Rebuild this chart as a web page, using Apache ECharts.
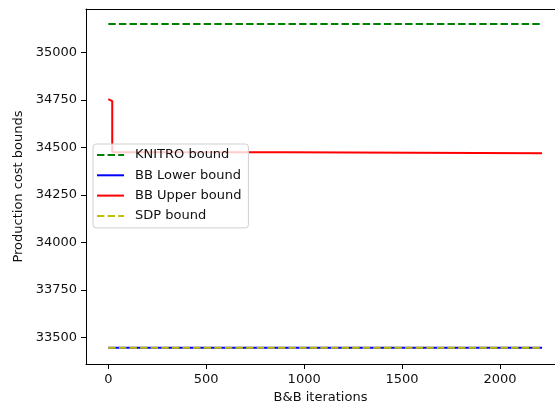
<!DOCTYPE html>
<html>
<head>
<meta charset="utf-8">
<script src="https://cdn.jsdelivr.net/npm/echarts@6/dist/echarts.min.js"></script>
<style>html,body{margin:0;padding:0;background:#fff}#c{width:555px;height:409px}</style>
</head>
<body>
<div id="c"></div>
<script>
const seriesNames = ['KNITRO bound', 'BB Lower bound', 'BB Upper bound', 'SDP bound'];
const knitroIter = [0, 2215];
const knitroVal = [35151, 35151];
const lowerIter = [0, 2215];
const lowerVal = [33446, 33446];
const upperIter = [0, 9, 20, 907, 2215];
const upperVal = [34755, 34745, 34475, 34470, 34470];
const sdpIter = [0, 2215];
const sdpVal = [33446, 33446];
const xTicks = [0, 500, 1000, 1500, 2000];
const yTicks = [33500, 33750, 34000, 34250, 34500, 34750, 35000];

const pair = (xs, ys) => xs.map((x, i) => [x, ys[i]]);
const font = 'DejaVu Sans';
const solidIcon = 'path://M0,0h27v2h-27z';
const dashIcon = 'path://M0,0h7.4v2h-7.4zM10.6,0h7.4v2h-7.4zM21.2,0h5.8v2h-5.8z';
const chart = echarts.init(document.getElementById('c'), null, {renderer: 'canvas'});
chart.setOption({
  animation: false,
  backgroundColor: '#fff',
  grid: {left: 86, top: 9, right: 0, bottom: 45},
  xAxis: [{
    type: 'value', min: -114, max: 2281,
    name: 'B&B iterations', nameLocation: 'middle', nameGap: 27,
    nameTextStyle: {fontFamily: font, fontSize: 13, color: '#111'},
    axisLine: {show: true, onZero: false, lineStyle: {color: '#000', width: 1}},
    axisTick: {show: true, length: 5, lineStyle: {color: '#000', width: 1}, customValues: xTicks},
    axisLabel: {fontFamily: font, fontSize: 13, color: '#111', margin: 9, customValues: xTicks, formatter: v => String(v)},
    splitLine: {show: false}
  }, {
    type: 'value', min: -114, max: 2281, position: 'top',
    axisLine: {show: true, onZero: false, lineStyle: {color: '#000', width: 1}},
    axisTick: {show: false}, axisLabel: {show: false}, splitLine: {show: false}
  }],
  yAxis: {
    type: 'value', min: 33360, max: 35230,
    name: 'Production cost bounds', nameLocation: 'middle', nameGap: 54,
    nameTextStyle: {fontFamily: font, fontSize: 13, color: '#111'},
    axisLine: {show: true, onZero: false, lineStyle: {color: '#000', width: 1}},
    axisTick: {show: true, length: 5, lineStyle: {color: '#000', width: 1}, customValues: yTicks},
    axisLabel: {fontFamily: font, fontSize: 13, color: '#111', margin: 9, customValues: yTicks, formatter: v => String(v)},
    splitLine: {show: false}
  },
  legend: {
    data: [
      {name: seriesNames[0], icon: dashIcon},
      {name: seriesNames[1], icon: solidIcon},
      {name: seriesNames[2], icon: solidIcon},
      {name: seriesNames[3], icon: dashIcon}
    ],
    orient: 'vertical', left: 93, top: 144,
    padding: [4, 7, 5, 4],
    itemWidth: 27, itemHeight: 2, itemGap: 6.3,
    backgroundColor: 'rgba(255,255,255,0.8)',
    borderColor: '#d0d0d0', borderWidth: 1, borderRadius: 3,
    textStyle: {fontFamily: font, fontSize: 13, color: '#111', lineHeight: 14, padding: [0, 0, 0, 6]}
  },
  series: [
    {name: seriesNames[0], type: 'line', data: pair(knitroIter, knitroVal), symbol: 'none',
     lineStyle: {color: '#008000', width: 2, type: [7.4, 3.2]}, itemStyle: {color: '#008000'}},
    {name: seriesNames[1], type: 'line', data: pair(lowerIter, lowerVal), symbol: 'none',
     lineStyle: {color: '#0000ff', width: 2}, itemStyle: {color: '#0000ff'}},
    {name: seriesNames[2], type: 'line', data: pair(upperIter, upperVal), symbol: 'none', step: 'end',
     lineStyle: {color: '#ff0000', width: 2}, itemStyle: {color: '#ff0000'}},
    {name: seriesNames[3], type: 'line', data: pair(sdpIter, sdpVal), symbol: 'none',
     lineStyle: {color: '#bfbf00', width: 2, type: [7.4, 3.2]}, itemStyle: {color: '#bfbf00'}}
  ]
});
</script>
</body>
</html>
